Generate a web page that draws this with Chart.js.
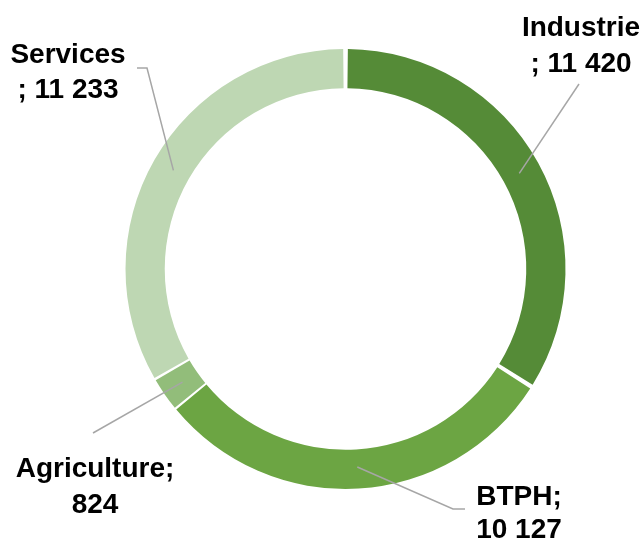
<!DOCTYPE html>
<html>
<head>
<meta charset="utf-8">
<script src="https://cdn.jsdelivr.net/npm/chart.js@4.4.1/dist/chart.umd.min.js"></script>
<style>
  html, body { margin: 0; padding: 0; background: #fff; }
  #wrap { width: 642px; height: 540px; position: relative; }
</style>
</head>
<body>
<div id="wrap"><canvas id="myChart"></canvas></div>
<script>
const categories = ["Industrie", "BTPH", "Agriculture", "Services"];
const values = [11420, 10127, 824, 11233];
const colors = ["#558B37", "#6CA543", "#92BD7A", "#BED7B3"];
const labelLines = [
  ["Industrie", "; 11 420"],
  ["BTPH;", "10 127"],
  ["Agriculture;", "824"],
  ["Services", "; 11 233"]
];

// where each label sits and how its leader line bends
const labelLayout = [
  { x: 581, y: [36, 72], path: [[579, 84]] },
  { x: 519, y: [505, 538], path: [[453, 509], [465, 509]] },
  { x: 95, y: [477, 513], path: [[93, 433]] },
  { x: 68, y: [63, 98], path: [[147, 68], [137, 68]] }
];

const leaderLabels = {
  id: "leaderLabels",
  afterDatasetsDraw(chart) {
    const ctx = chart.ctx;
    const arcs = chart.getDatasetMeta(0).data;
    ctx.save();
    arcs.forEach((arc, i) => {
      const p = arc.getProps(["x", "y", "startAngle", "endAngle", "innerRadius", "outerRadius"], true);
      const mid = (p.startAngle + p.endAngle) / 2;
      const r = (p.innerRadius + p.outerRadius) / 2;
      const ax = p.x + Math.cos(mid) * r;
      const ay = p.y + Math.sin(mid) * r;
      const lay = labelLayout[i];
      ctx.strokeStyle = "#A6A6A6";
      ctx.lineWidth = 1.5;
      ctx.beginPath();
      ctx.moveTo(ax, ay);
      lay.path.forEach((pt) => ctx.lineTo(pt[0], pt[1]));
      ctx.stroke();
      ctx.fillStyle = "#000";
      ctx.font = "bold 28px 'Liberation Sans', Arial, sans-serif";
      ctx.textAlign = "center";
      ctx.textBaseline = "alphabetic";
      labelLines[i].forEach((t, j) => ctx.fillText(t, lay.x, lay.y[j]));
    });
    ctx.restore();
  }
};

const ctx = document.getElementById("myChart");

new Chart(ctx, {
  type: "doughnut",
  data: {
    labels: categories,
    datasets: [
      {
        data: values,
        backgroundColor: colors,
        borderWidth: 0,
        spacing: 4,
        hoverOffset: 0,
      },
    ],
  },
  options: {
    responsive: true,
    maintainAspectRatio: false,
    animation: false,
    cutout: "82%",
    layout: {
      padding: { left: 125, right: 76, top: 49, bottom: 51 },
    },
    plugins: {
      legend: { display: false },
      tooltip: { enabled: false },
    },
  },
  plugins: [leaderLabels],
});
</script>
</body>
</html>
